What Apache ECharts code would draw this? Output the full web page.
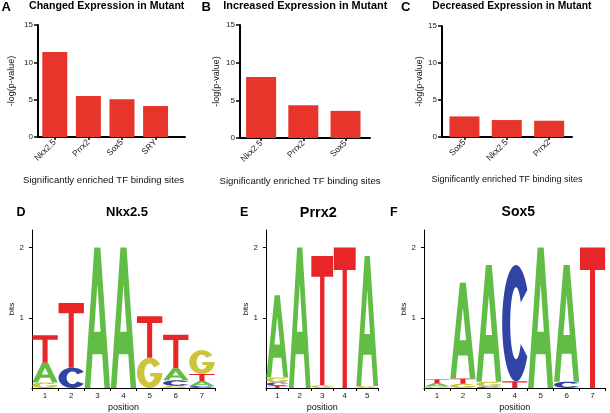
<!DOCTYPE html>
<html><head><meta charset="utf-8">
<script src="https://cdn.jsdelivr.net/npm/echarts@6/dist/echarts.min.js"></script>
<style>html,body{margin:0;padding:0;background:#fff}#c{width:610px;height:413px}</style>
</head><body><div id="c"></div>
<script>
// ---------- bar panels ----------
const catsA = ['Nkx2.5', 'Prrx2', 'Sox5', 'SRY'];
const valsA = [11.4, 5.5, 5.05, 4.15];
const catsB = ['Nkx2.5', 'Prrx2', 'Sox5'];
const valsB = [8.1, 4.35, 3.6];
const catsC = ['Sox5', 'Nkx2.5', 'Prrx2'];
const valsC = [2.78, 2.29, 2.2];
const barTicks = [0, 5, 10, 15];
// ---------- sequence logos (bits per letter, by position) ----------
const nkxPos = ['1', '2', '3', '4', '5', '6', '7'];
const nkxA = [0.28, 0, 2.0, 2.0, 0, 0.17, 0.07];
const nkxC = [0, 0.29, 0, 0, 0, 0.08, 0.03];
const nkxG = [0.08, 0, 0, 0, 0.43, 0.03, 0.34];
const nkxT = [0.39, 0.92, 0, 0, 0.59, 0.48, 0.10];
const prrxPos = ['1', '2', '3', '4', '5'];
const prrxA = [1.17, 2.0, 0, 0, 1.85];
const prrxC = [0.05, 0, 0, 0, 0];
const prrxG = [0.07, 0, 0.04, 0, 0.03];
const prrxT = [0.03, 0, 1.84, 2.0, 0];
const soxPos = ['1', '2', '3', '4', '5', '6', '7'];
const soxA = [0.05, 1.365, 1.66, 0, 2.0, 1.66, 0];
const soxC = [0, 0, 0.02, 1.655, 0, 0.09, 0];
const soxG = [0.02, 0.06, 0.07, 0, 0, 0, 0];
const soxT = [0.055, 0.075, 0, 0.095, 0, 0, 2.0];
const bitTicks = [1, 2];

const FONT = 'Liberation Sans, Arial, Helvetica, sans-serif';
const BAR_COLOR = '#E8352B';
const LETTER_COLORS = ['#62BD46', '#2F44A5', '#CCC43A', '#E8262A'];

// glyph outlines (in a 100x100 box, stretched to fit each letter's cell)
function fmt(p) { return p[0].toFixed(2) + ',' + p[1].toFixed(2); }
function glyphA() {
  return 'M0,100L38,0L62,0L100,100L78,100L68.9,76L31.1,76L22,100Z' +
         'M37.2,60L62.8,60L50,26Z';
}
function glyphC() {
  const pts = [];
  const n = 48;
  for (let i = 0; i <= n; i++) { const t = (35 + 290 * i / n) * Math.PI / 180; pts.push([50 + 50 * Math.cos(t), 50 - 50 * Math.sin(t)]); }
  for (let i = n; i >= 0; i--) { const t = (35 + 290 * i / n) * Math.PI / 180; pts.push([50 + 21 * Math.cos(t), 50 - 31 * Math.sin(t)]); }
  return 'M' + pts.map(fmt).join('L') + 'Z';
}
function glyphG() {
  const pts = [];
  const n = 48;
  for (let i = 0; i <= n; i++) { const t = (35 + 325 * i / n) * Math.PI / 180; pts.push([50 + 50 * Math.cos(t), 50 - 50 * Math.sin(t)]); }
  pts.push([52, 50]); pts.push([52, 62]);
  const tEnd = 360 - Math.asin(12 / 31) * 180 / Math.PI;
  for (let i = 0; i <= n; i++) { const t = (tEnd - (tEnd - 35) * i / n) * Math.PI / 180; pts.push([50 + 21 * Math.cos(t), 50 - 31 * Math.sin(t)]); }
  return 'M' + pts.map(fmt).join('L') + 'Z';
}
function glyphT() { return 'M0,0L100,0L100,16L60,16L60,100L40,100L40,16L0,16Z'; }
const GLYPHS = [glyphA(), glyphC(), glyphG(), glyphT()];

function buildStack(arrs) {
  const out = [];
  const n = arrs[0].length;
  for (let i = 0; i < n; i++) {
    const items = [0, 1, 2, 3].map(k => [k, arrs[k][i]]).filter(d => d[1] > 0).sort((a, b) => a[1] - b[1]);
    let base = 0;
    items.forEach(([k, h]) => { out.push([i, base, base + h, k]); base += h; });
  }
  return out;
}

function renderLetter(params, api) {
  const c = api.value(0), y0 = api.value(1), y1 = api.value(2), k = api.value(3);
  const p0 = api.coord([c, y0]);
  const p1 = api.coord([c, y1]);
  const w = api.size([1, 0])[0] * 0.97;
  return {
    type: 'path',
    shape: { pathData: GLYPHS[k], x: p0[0] - w / 2, y: p1[1], width: w, height: Math.max(p0[1] - p1[1], 0.3), layout: 'cover' },
    style: { fill: LETTER_COLORS[k] }
  };
}

const chart = echarts.init(document.getElementById('c'), null, { renderer: 'canvas' });

function barX(idx, cats, min, max) {
  const vals = cats.map((_, i) => i);
  return {
    type: 'value', gridIndex: idx, min: min, max: max,
    name: 'Significantly enriched TF binding sites', nameLocation: 'middle',
    nameGap: 38, nameTextStyle: { fontSize: idx === 2 ? 9 : 9.6, color: '#111', fontFamily: FONT, padding: idx === 0 ? [0, 16, 0, 0] : (idx === 1 ? [0, 10, 0, 0] : 0) },
    axisLine: { show: true, onZero: false, lineStyle: { color: '#000', width: 2 } },
    axisTick: { show: true, customValues: vals, length: 3, lineStyle: { color: '#000', width: 1.5 } },
    axisLabel: { customValues: vals, rotate: 45, margin: 4, fontSize: 8.5, color: '#222', fontFamily: FONT, formatter: v => cats[Math.round(v)] },
    splitLine: { show: false }
  };
}
function barY(idx, gap) {
  return {
    type: 'value', gridIndex: idx, min: 0, max: 15, interval: 5,
    name: '-log(p-value)', nameLocation: 'middle', nameGap: gap,
    nameTextStyle: { fontSize: 9, color: '#111', fontFamily: FONT },
    axisLine: { show: true, onZero: false, lineStyle: { color: '#000', width: 2 } },
    axisTick: { show: true, length: 4, lineStyle: { color: '#000', width: 1.5 } },
    axisLabel: { customValues: barTicks, margin: 5, fontSize: 8, color: '#222', fontFamily: FONT },
    splitLine: { show: false }
  };
}
function logoX(idx, cats) {
  return {
    type: 'category', gridIndex: idx, data: cats, boundaryGap: true,
    name: 'position', nameLocation: 'middle', nameGap: 15,
    nameTextStyle: { fontSize: 9, color: '#111', fontFamily: FONT },
    axisLine: { show: true, onZero: false, lineStyle: { color: '#000', width: 1 } },
    axisTick: { show: true, length: 3, alignWithLabel: false, lineStyle: { color: '#000', width: 1 } },
    axisLabel: { margin: 4, fontSize: 8, color: '#222', fontFamily: FONT },
    splitLine: { show: false }
  };
}
function logoY(idx, gap) {
  return {
    type: 'value', gridIndex: idx, min: 0, max: 2.25,
    name: 'bits', nameLocation: 'middle', nameGap: gap,
    nameTextStyle: { fontSize: 8, color: '#111', fontFamily: FONT },
    axisLine: { show: true, onZero: false, lineStyle: { color: '#000', width: 1 } },
    axisTick: { show: true, length: 3, customValues: bitTicks, lineStyle: { color: '#000', width: 1 } },
    axisLabel: { customValues: bitTicks, margin: 8, fontSize: 8, color: '#222', fontFamily: FONT },
    splitLine: { show: false }
  };
}
function txt(x, y, s, size, bold, align) {
  return { type: 'text', x: x, y: y, silent: true,
    style: { text: s, font: (bold ? 'bold ' : '') + size + 'px ' + FONT, fill: '#000', textAlign: align || 'left', textVerticalAlign: 'middle' } };
}

const option = {
  animation: false,
  textStyle: { fontFamily: FONT },
  grid: [
    { left: 38, top: 25, width: 147, height: 112 },
    { left: 240, top: 25, width: 130, height: 113 },
    { left: 442, top: 26, width: 130, height: 111 },
    { left: 32, top: 230, width: 183, height: 158 },
    { left: 266, top: 230, width: 112.5, height: 158 },
    { left: 424, top: 230, width: 181.5, height: 158 }
  ],
  xAxis: [
    barX(0, catsA, -0.5, 3.876),
    barX(1, catsB, -0.5, 2.58),
    barX(2, catsC, -0.53, 2.54),
    logoX(3, nkxPos),
    logoX(4, prrxPos),
    logoX(5, soxPos)
  ],
  yAxis: [
    barY(0, 21.5), barY(1, 18.5), barY(2, 17.5),
    logoY(3, 16), logoY(4, 15), logoY(5, 14.5)
  ],
  series: [
    { type: 'bar', xAxisIndex: 0, yAxisIndex: 0, barWidth: 25, data: valsA.map((v, i) => [i, v]), itemStyle: { color: BAR_COLOR } },
    { type: 'bar', xAxisIndex: 1, yAxisIndex: 1, barWidth: 30, data: valsB.map((v, i) => [i, v]), itemStyle: { color: BAR_COLOR } },
    { type: 'bar', xAxisIndex: 2, yAxisIndex: 2, barWidth: 30, data: valsC.map((v, i) => [i, v]), itemStyle: { color: BAR_COLOR } },
    { type: 'custom', xAxisIndex: 3, yAxisIndex: 3, encode: { x: 0, y: [1, 2] }, renderItem: renderLetter, data: buildStack([nkxA, nkxC, nkxG, nkxT]) },
    { type: 'custom', xAxisIndex: 4, yAxisIndex: 4, encode: { x: 0, y: [1, 2] }, renderItem: renderLetter, data: buildStack([prrxA, prrxC, prrxG, prrxT]) },
    { type: 'custom', xAxisIndex: 5, yAxisIndex: 5, encode: { x: 0, y: [1, 2] }, renderItem: renderLetter, data: buildStack([soxA, soxC, soxG, soxT]) }
  ],
  graphic: [
    txt(1.5, 7.3, 'A', 13, true),
    txt(29, 6.2, 'Changed Expression in Mutant', 10.6, true),
    txt(201.5, 7.3, 'B', 13, true),
    txt(223.3, 6.2, 'Increased Expression in Mutant', 10.9, true),
    txt(401, 7.3, 'C', 13, true),
    txt(432.3, 6.2, 'Decreased Expression in Mutant', 10.3, true),
    txt(16.5, 212.3, 'D', 12.5, true),
    txt(127, 212.5, 'Nkx2.5', 13, true, 'center'),
    txt(240, 212.3, 'E', 12.5, true),
    txt(318.3, 212.5, 'Prrx2', 14.5, true, 'center'),
    txt(390, 212.3, 'F', 12.5, true),
    txt(518.3, 212.5, 'Sox5', 14, true, 'center')
  ]
};
chart.setOption(option);
</script>
</body></html>
